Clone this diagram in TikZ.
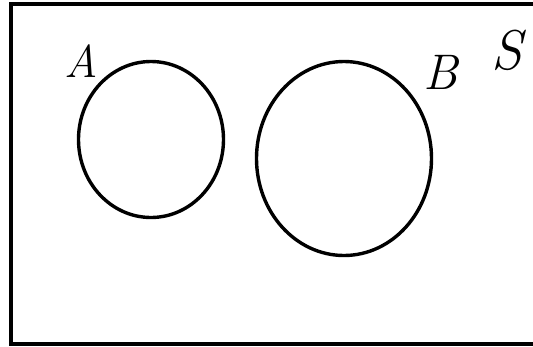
\documentclass[tikz,border=0pt]{standalone}
\usetikzlibrary{shapes.geometric}
\begin{document}
\begin{tikzpicture}[x=1pt,y=-1pt,
  setcurve/.style={draw,ellipse,inner sep=0pt,line width=3.4pt},
  setlabel/.style={inner sep=0pt}]
\useasboundingbox (0,0) rectangle (533,346);
\clip (0,0) rectangle (533,346);
\fill[white] (0,0) rectangle (533,346);
\draw[line width=4pt] (11,4) rectangle (560,343.5);
\node[setcurve,minimum width=145pt,minimum height=156pt] (A) at (151,139.5) {};
\node[setcurve,minimum width=175pt,minimum height=194pt] (B) at (344,158.5) {};
\node[setlabel,font=\itshape\fontsize{46}{46}\selectfont] (la) at (81,61) {A};
\node[setlabel,font=\itshape\fontsize{50}{50}\selectfont] (lb) at (441,72.5) {B};
\node[setlabel,font=\itshape\fontsize{56}{56}\selectfont] (ls) at (507,50) {S};
\end{tikzpicture}
\end{document}
